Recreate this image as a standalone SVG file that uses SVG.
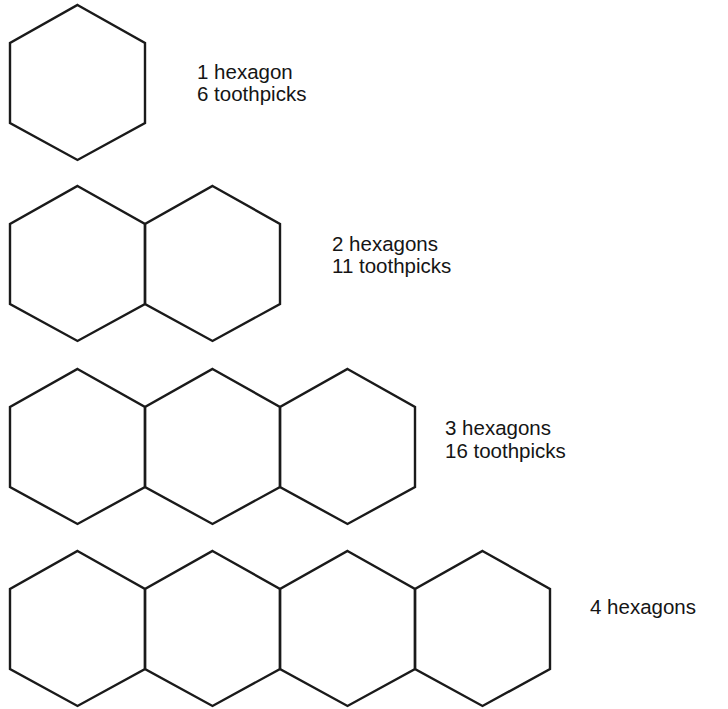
<svg xmlns="http://www.w3.org/2000/svg" xmlns:xlink="http://www.w3.org/1999/xlink" width="728" height="709" viewBox="0 0 728 709">
<style>
.hex{fill:none;stroke:#1a1a1a;stroke-width:2.4;stroke-linejoin:miter}
.lbl{font-family:"Liberation Sans",Arial,sans-serif;font-size:20.5px;fill:#151515}
</style>
<defs>
<polygon id="hx" class="hex" points="67.5,0 135,38 135,118 67.5,155 0,118 0,38"/>
</defs>
<rect width="728" height="709" fill="#ffffff"/>
<g id="fig1">
<use xlink:href="#hx" href="#hx" x="10" y="5"/>
<text class="lbl" x="197" y="79">1 hexagon</text>
<text class="lbl" x="197" y="101">6 toothpicks</text>
</g>
<g id="fig2">
<use xlink:href="#hx" href="#hx" x="10" y="186"/>
<use xlink:href="#hx" href="#hx" x="145" y="186"/>
<text class="lbl" x="332" y="251">2 hexagons</text>
<text class="lbl" x="332" y="273">11 toothpicks</text>
</g>
<g id="fig3">
<use xlink:href="#hx" href="#hx" x="10" y="369"/>
<use xlink:href="#hx" href="#hx" x="145" y="369"/>
<use xlink:href="#hx" href="#hx" x="280" y="369"/>
<text class="lbl" x="445" y="435">3 hexagons</text>
<text class="lbl" x="445" y="458">16 toothpicks</text>
</g>
<g id="fig4">
<use xlink:href="#hx" href="#hx" x="10" y="551"/>
<use xlink:href="#hx" href="#hx" x="145" y="551"/>
<use xlink:href="#hx" href="#hx" x="280" y="551"/>
<use xlink:href="#hx" href="#hx" x="415" y="551"/>
<text class="lbl" x="590" y="614">4 hexagons</text>
</g>
<g id="connectors"/>
</svg>
